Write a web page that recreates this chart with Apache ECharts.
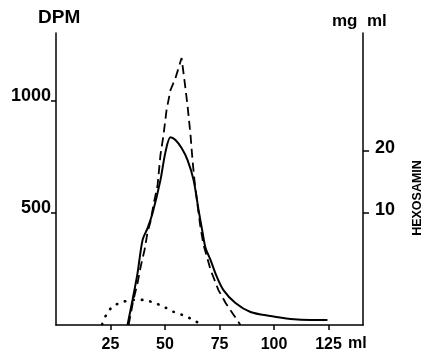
<!DOCTYPE html>
<html>
<head>
<meta charset="utf-8">
<script src="https://cdn.jsdelivr.net/npm/echarts@6/dist/echarts.min.js"></script>
<style>
  html, body { margin: 0; padding: 0; background: #fff; }
  #chartDIV { width: 429px; height: 357px; }
</style>
</head>
<body>
<div id="chartDIV"></div>
<script>
// elution volume (ml) and counts (DPM)
var solidMl  = [32.8, 35.1, 37.4, 39.7, 42.0, 44.3, 47.9, 50.2, 52.5, 54.8, 57.6, 60.3, 63.1, 65.4, 67.2, 68.6, 70.9, 73.6, 76.8, 82.3, 89.2, 98.4, 107.6, 116.7, 124.5];
var solidVal = [0, 112, 232, 379, 433, 500, 647, 772, 839, 826, 790, 737, 647, 513, 415, 344, 290, 219, 156, 98, 58, 40, 27, 22, 22];

var dashMl  = [33.3, 35.5, 37.4, 38.8, 40.6, 42.0, 43.3, 44.7, 46.6, 47.9, 49.3, 50.7, 52.5, 54.8, 57.6, 58.9, 60.3, 61.7, 62.6, 63.5, 64.9, 66.3, 67.7, 70.9, 74.5, 77.8, 81.5, 84.6];
var dashVal = [0, 112, 187, 259, 335, 415, 460, 536, 625, 759, 848, 960, 1049, 1103, 1192, 1094, 982, 848, 737, 647, 536, 433, 357, 246, 156, 98, 45, 0];

var dotMl  = [21.2, 23.5, 26.4, 31.0, 35.5, 40.1, 44.7, 49.3, 53.9, 57.9, 62.5, 66.3];
var dotVal = [4, 54, 85, 104, 112, 112, 100, 82, 59, 45, 25, 4];

var xTicks = [25, 50, 75, 100, 125];
var dpmTicks = [500, 1000];
var hexTicks = [10, 20];

function pairs(xs, ys) {
    var out = [];
    for (var i = 0; i < xs.length; i++) out.push([xs[i], ys[i]]);
    return out;
}
function plain(v) { return String(v); }

var myChart = echarts.init(document.getElementById('chartDIV'));
var font = 'Liberation Sans';
var option = {
    backgroundColor: '#fff',
    animation: false,
    grid: { left: 56, right: 66, top: 33, bottom: 32 },
    xAxis: {
        type: 'value', min: 0, max: 140.8,
        splitLine: { show: false },
        axisLine: { lineStyle: { color: '#000', width: 1.5 } },
        axisTick: { length: 5, customValues: xTicks, lineStyle: { color: '#000', width: 1.5 } },
        axisLabel: { customValues: xTicks, formatter: plain, margin: 12, color: '#000', fontFamily: font, fontWeight: 'bold', fontSize: 16 }
    },
    yAxis: [
        {
            type: 'value', min: 0, max: 1304, position: 'left',
            splitLine: { show: false },
            axisLine: { show: true, lineStyle: { color: '#000', width: 1.5 } },
            axisTick: { show: true, length: 5, customValues: dpmTicks, lineStyle: { color: '#000', width: 1.5 } },
            axisLabel: { customValues: dpmTicks, formatter: plain, margin: 5, verticalAlign: 'bottom', lineHeight: 10,
                         color: '#000', fontFamily: font, fontWeight: 'bold', fontSize: 18 }
        },
        {
            type: 'value', min: -8, max: 39, position: 'right',
            splitLine: { show: false },
            axisLine: { show: true, lineStyle: { color: '#000', width: 1.5 } },
            axisTick: { show: true, length: 6, customValues: hexTicks, lineStyle: { color: '#000', width: 1.5 } },
            axisLabel: { customValues: hexTicks, formatter: plain, margin: 12, verticalAlign: 'bottom', lineHeight: 6,
                         color: '#000', fontFamily: font, fontWeight: 'bold', fontSize: 18 }
        }
    ],
    graphic: [
        { type: 'text', left: 38, top: 8, style: { text: 'DPM', fill: '#000', font: 'bold 19px Liberation Sans' } },
        { type: 'text', left: 332, top: 13, style: { text: 'mg  ml', fill: '#000', font: 'bold 17px Liberation Sans' } },
        { type: 'text', left: 348, top: 336, style: { text: 'ml', fill: '#000', font: 'bold 16px Liberation Sans' } },
        { type: 'text', x: 418, y: 198, rotation: Math.PI / 2,
          style: { text: 'HEXOSAMIN', fill: '#000', font: 'bold 12.5px Liberation Sans', textAlign: 'center', textVerticalAlign: 'middle' } }
    ],
    series: [
        {
            name: 'solid', type: 'line', data: pairs(solidMl, solidVal),
            smooth: 0.3, showSymbol: false,
            lineStyle: { color: '#000', width: 2 }
        },
        {
            name: 'dashed', type: 'line', data: pairs(dashMl, dashVal),
            smooth: false, showSymbol: false,
            lineStyle: { color: '#000', width: 1.8, type: [9, 5] }
        },
        {
            name: 'dotted', type: 'line', data: pairs(dotMl, dotVal),
            smooth: 0.3, showSymbol: false,
            lineStyle: { color: '#000', width: 2.6, type: [0.5, 8], cap: 'round' }
        }
    ]
};
myChart.setOption(option);
</script>
</body>
</html>
